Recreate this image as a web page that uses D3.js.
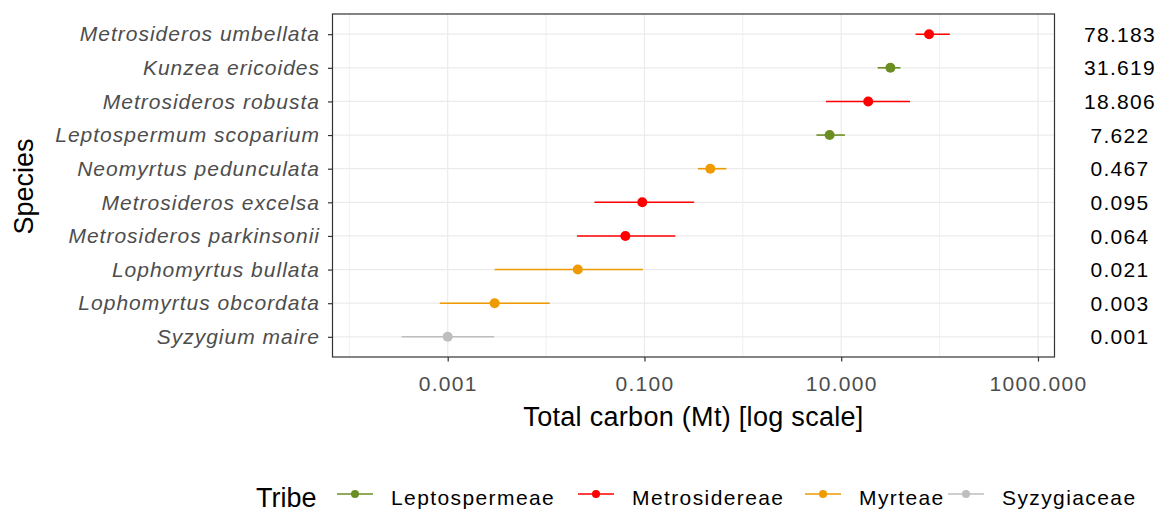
<!DOCTYPE html>
<html>
<head>
<meta charset="utf-8">
<script src="https://cdn.jsdelivr.net/npm/d3@7"></script>
<style>
  body { margin: 0; background: #fff; }
  text { font-family: "Liberation Sans", Arial, sans-serif; }
</style>
</head>
<body>
<svg id="chart" width="1162" height="509"></svg>
<script>
const WIDTH = 1162;
const HEIGHT = 509;

// species top to bottom
const species = [
  "Metrosideros umbellata",
  "Kunzea ericoides",
  "Metrosideros robusta",
  "Leptospermum scoparium",
  "Neomyrtus pedunculata",
  "Metrosideros excelsa",
  "Metrosideros parkinsonii",
  "Lophomyrtus bullata",
  "Lophomyrtus obcordata",
  "Syzygium maire",
];
const tribe = [
  "Metrosidereae", "Leptospermeae", "Metrosidereae", "Leptospermeae", "Myrteae",
  "Metrosidereae", "Metrosidereae", "Myrteae", "Myrteae", "Syzygiaceae",
];
const carbon = [78.183, 31.619, 18.806, 7.622, 0.467, 0.095, 0.064, 0.021, 0.003, 0.001];
const lower = [57, 23.5, 7.0, 5.6, 0.35, 0.031, 0.0206, 0.003, 0.00083, 0.00034];
const upper = [127, 40, 50, 10.9, 0.68, 0.32, 0.206, 0.0964, 0.0109, 0.00297];

const tribes = ["Leptospermeae", "Metrosidereae", "Myrteae", "Syzygiaceae"];
const tribeColors = ["#6B8E23", "#FF0000", "#EE9A00", "#BEBEBE"];
const xTicks = [0.001, 0.1, 10, 1000];
const xMinor = [0.0001, 0.01, 1, 100];

const panel = { left: 332.5, right: 1054.5, top: 14, bottom: 357 };

const svg = d3.select("#chart");

const x = d3.scaleLog()
  .domain([Math.pow(10, -4.171), Math.pow(10, 3.168)])
  .range([panel.left, panel.right]);

const y = d3.scalePoint()
  .domain(species)
  .range([panel.top, panel.bottom])
  .padding(0.6);

const color = d3.scaleOrdinal().domain(tribes).range(tribeColors);

const rows = species.map((s, i) => ({
  species: s, tribe: tribe[i], carbon: carbon[i], lower: lower[i], upper: upper[i],
}));

// grid
const grid = svg.append("g");
grid.selectAll(".minor").data(xMinor).enter().append("line")
  .attr("x1", d => x(d)).attr("x2", d => x(d))
  .attr("y1", panel.top).attr("y2", panel.bottom)
  .attr("stroke", "#EBEBEB").attr("stroke-width", 0.8);
grid.selectAll(".major").data(xTicks).enter().append("line")
  .attr("x1", d => x(d)).attr("x2", d => x(d))
  .attr("y1", panel.top).attr("y2", panel.bottom)
  .attr("stroke", "#EBEBEB").attr("stroke-width", 1.2);
grid.selectAll(".hmajor").data(species).enter().append("line")
  .attr("x1", panel.left).attr("x2", panel.right)
  .attr("y1", d => y(d)).attr("y2", d => y(d))
  .attr("stroke", "#EBEBEB").attr("stroke-width", 1.2);

// error bars + points
svg.append("g").selectAll("line").data(rows).enter().append("line")
  .attr("x1", d => x(d.lower)).attr("x2", d => x(d.upper))
  .attr("y1", d => y(d.species)).attr("y2", d => y(d.species))
  .attr("stroke", d => color(d.tribe)).attr("stroke-width", 1.6);
svg.append("g").selectAll("circle").data(rows).enter().append("circle")
  .attr("cx", d => x(d.carbon)).attr("cy", d => y(d.species))
  .attr("r", 5).attr("fill", d => color(d.tribe));

// panel border
svg.append("rect")
  .attr("x", panel.left).attr("y", panel.top)
  .attr("width", panel.right - panel.left).attr("height", panel.bottom - panel.top)
  .attr("fill", "none").attr("stroke", "#333333").attr("stroke-width", 1.2);

// x axis
const xAxis = svg.append("g")
  .attr("transform", `translate(0,${panel.bottom})`)
  .call(d3.axisBottom(x).tickValues(xTicks).tickFormat(d3.format(".3f")).tickSize(4.5).tickPadding(15));
xAxis.select(".domain").remove();
xAxis.selectAll(".tick line").attr("stroke", "#333333").attr("stroke-width", 1.2);
xAxis.selectAll(".tick text").attr("fill", "#4D4D4D")
  .style("font-size", "21px").style("letter-spacing", "1.3px");

// y axis
const yAxis = svg.append("g")
  .attr("transform", `translate(${panel.left},0)`)
  .call(d3.axisLeft(y).tickSize(4.5).tickPadding(8));
yAxis.select(".domain").remove();
yAxis.selectAll(".tick line").attr("stroke", "#333333").attr("stroke-width", 1.2);
yAxis.selectAll(".tick text").attr("fill", "#4D4D4D")
  .style("font-size", "21px").style("font-style", "italic").style("letter-spacing", "1px");

// value labels on the right
svg.append("g").selectAll("text").data(rows).enter().append("text")
  .attr("x", 1120).attr("y", d => y(d.species)).attr("dy", "0.36em")
  .attr("text-anchor", "middle").attr("fill", "#000")
  .style("font-size", "21px").style("letter-spacing", "1.3px")
  .text(d => d.carbon.toFixed(3));

// axis titles
svg.append("text")
  .attr("x", (panel.left + panel.right) / 2).attr("y", 426)
  .attr("text-anchor", "middle").style("font-size", "27px").style("letter-spacing", "0.3px")
  .text("Total carbon (Mt) [log scale]");
svg.append("text")
  .attr("transform", `translate(33,${(panel.top + panel.bottom) / 2 + 1}) rotate(-90)`)
  .attr("text-anchor", "middle").style("font-size", "27px")
  .text("Species");

// legend
const legend = svg.append("g").attr("transform", "translate(0,494)");
legend.append("text").attr("x", 256).attr("y", 12.5)
  .style("font-size", "27px").text("Tribe");
const keyX = [337, 578, 805, 948];
const items = legend.selectAll(".key").data(tribes).enter().append("g")
  .attr("transform", (d, i) => `translate(${keyX[i]},0)`);
items.append("line").attr("x1", 0).attr("x2", 36).attr("y1", 0).attr("y2", 0)
  .attr("stroke", d => color(d)).attr("stroke-width", 1.6);
items.append("circle").attr("cx", 18).attr("cy", 0).attr("r", 4)
  .attr("fill", d => color(d));
items.append("text").attr("x", 54).attr("y", 11)
  .style("font-size", "21px").style("letter-spacing", "1.4px").text(d => d);
</script>
</body>
</html>
